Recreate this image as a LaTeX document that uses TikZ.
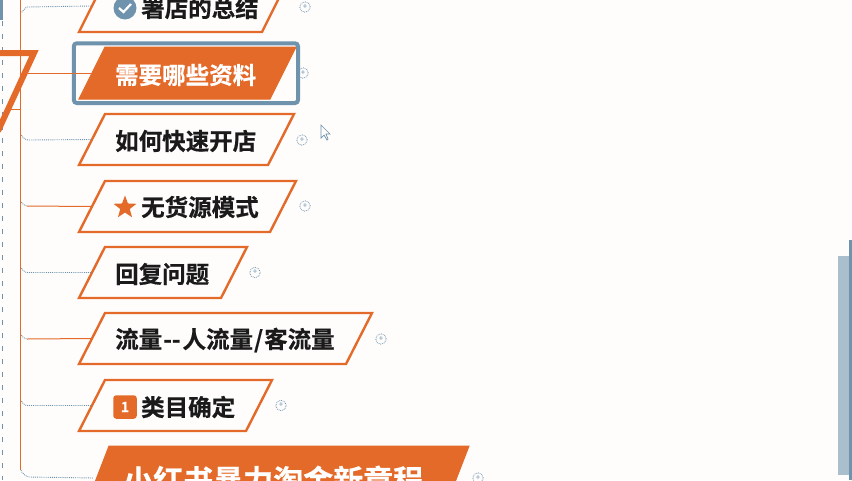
\documentclass[tikz,border=0pt]{standalone}
\usepackage{fontspec}
\usetikzlibrary{shapes.geometric}
\setmainfont{Noto Sans CJK SC}
\newfontfamily\cjkb{Noto Sans CJK SC Bold}[FakeBold=.5]
\definecolor{org}{HTML}{E46A29}
\definecolor{slate}{HTML}{6F93AD}
\definecolor{ink}{HTML}{1A1A1A}
\definecolor{paper}{HTML}{FEFDFC}
\definecolor{dither}{HTML}{A9BFCE}
\tikzset{
 topicbox/.style={draw=org,line width=2.4pt,line join=miter,fill=paper},
 topicfill/.style={fill=org,draw=org,line width=1pt},
 lbl/.style={anchor=west,inner sep=0pt,text=ink,font=\cjkb\fontsize{23.5}{24}\selectfont},
 lblw/.style={lbl,text=white},
 stem/.style={draw=org,line width=1pt},
 dotline/.style={draw=slate,line width=.9pt,densely dotted},
 plus/.style={circle,draw=slate,densely dotted,line width=.8pt,minimum size=10.5pt,inner sep=0pt,font=\fontsize{8}{8}\selectfont,text=slate},
}
\newcommand{\para}[6][topicbox]{% style, name, x-left-bottom, x-right-top, ytop, ybot
 \path[#1] (#3,#6) -- (#3+26,#5) -- (#4,#5) -- (#4-26,#6) -- cycle;
 \coordinate (#2) at (#3+13,{(#5+#6)/2});
}
\begin{document}
\begin{tikzpicture}[x=1pt,y=-1pt]
\useasboundingbox (0,0) rectangle (852,480);
\fill[paper] (0,0) rectangle (852,480);
% left dashed guide and trunk
\coordinate (g1) at (2.5,21); \coordinate (g2) at (2.5,480);
\draw[slate,line width=.9pt,dash pattern=on 5pt off 8pt] (g1)--(g2);
\fill[slate] (0,0) rectangle (3,20);
\coordinate (t1) at (20.5,0); \coordinate (t2) at (20.5,470);
\draw[stem] (t1) -- (t2);
% big parent topic fragment
\coordinate (p0) at (0,53); \coordinate (p1) at (34,53); \coordinate (p2) at (-2,131);
\draw[org,line width=6pt,line join=miter] (p0) -- (p1) -- (p2);
% topics
\para{a}{79}{288}{-20}{32}
\para[topicfill]{b}{79}{296}{47}{99}
\para{c}{79}{294}{114}{165}
\para{d}{79}{296}{181}{232}
\para{e}{79}{247}{247}{298}
\para{f}{79}{372}{313}{364}
\para{g}{79}{272}{380}{431}
\path[topicfill] (92,490) -- (109,446) -- (469,446) -- (452,490) -- cycle;
\coordinate (h) at (93,478);
% selection frame
\draw[slate,line width=4pt,rounded corners=3pt] (73.8,43.3) rectangle (298,103);
% connectors
\draw[dotline] (21.5,12) to[out=-90,in=180,looseness=.6] (27,7) -- (a);
\draw[stem] (28,73) -- (b);
\draw[stem] (11,109) -- (20,109);
\coordinate (jc) at (21.5,135);
\draw[dotline] (jc) to[out=-90,in=180,looseness=.6] (28,140) -- (c);
\draw[dotline] (21.5,202) to[out=-90,in=180,looseness=.6] (27,206);
\draw[stem] (27,206) -- (d);
\draw[dotline] (21.5,268) to[out=-90,in=180,looseness=.6] (27,272.5) -- (e);
\draw[dotline] (21.5,335) to[out=-90,in=180,looseness=.6] (27,339);
\draw[stem] (27,339) -- (f);
\draw[dotline] (21.5,401) to[out=-90,in=180,looseness=.6] (27,405.5) -- (g);
\draw[dotline] (21,470) to[out=-90,in=180,looseness=.6] (29,477) -- (h);
% plus marks
\node[plus] (pa) at (305,7) {+};
\node[plus] (pb) at (303,73) {+};
\node[plus] (pc) at (302,140) {+};
\node[plus] (pd) at (305,206) {+};
\node[plus] (pe) at (255,272.5) {+};
\node[plus] (pf) at (381,339) {+};
\node[plus] (pg) at (281,405.5) {+};
\node[plus] (ph) at (478,478) {+};
% icons
\fill[slate] (125,8) circle (11.5pt);
\draw[white,line width=2.2pt] (119,8) -- (123.5,12) -- (131,4);
\node[star,star points=5,star point ratio=2.4,fill=org,minimum size=24pt,inner sep=0pt] (star) at (125,207.5) {};
\node[fill=org,rounded corners=3pt,minimum size=23.5pt,inner sep=0pt,text=white,font=\cjkb\fontsize{14}{14}\selectfont] (one) at (125,407) {1};
% labels
\node[lbl] (ta) at (141,8) {署店的总结};
\node[lblw] (tb) at (115,75) {需要哪些资料};
\node[lbl] (tc) at (115,141) {如何快速开店};
\node[lbl] (td) at (141,207) {无货源模式};
\node[lbl] (te) at (115,274) {回复问题};
\node[lbl] (tf) at (115,340) {流量\hspace{1pt}-{}-\hspace{2pt}人流量\hspace{1pt}/\hspace{1pt}客流量};
\node[lbl] (tg) at (141,407) {类目确定};
\node[lblw,font=\cjkb\fontsize{30}{30}\selectfont] (th) at (123,480) {小红书暴力淘金新章程};
% cursor
\coordinate (m0) at (321,125);
\draw[slate,fill=paper,line width=.7pt] (m0) -- (321,138) -- (324,135) -- (327,140) -- (328,139) -- (326,134) -- (330,134) -- cycle;
% scrollbar
\fill[dither] (838,256) rectangle (849,475);
\fill[slate] (849,240) rectangle (852,480);
\end{tikzpicture}
\end{document}
